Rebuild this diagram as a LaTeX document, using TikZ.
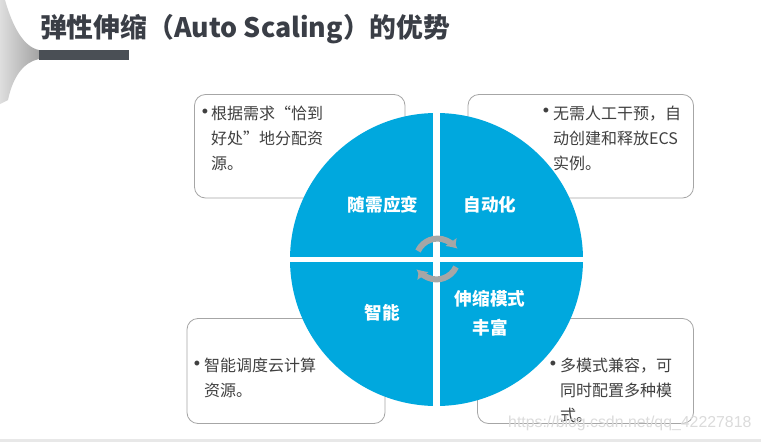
\documentclass[tikz,border=0pt]{standalone}
\usepackage{fontspec}
\setmainfont{Noto Sans CJK SC}
\newfontfamily\markfont{Liberation Sans}
\usetikzlibrary{arrows.meta}
\definecolor{wedge}{HTML}{00A8DE}
\definecolor{ink}{HTML}{404040}
\definecolor{titleink}{HTML}{3A3E46}
\definecolor{edgegray}{HTML}{A6A6A6}
\definecolor{barcol}{HTML}{4A4F55}
\tikzset{
  infobox/.style={draw=edgegray,line width=0.8pt,fill=white,rounded corners=11pt},
  bodytext/.style={anchor=west,inner sep=0pt,text=ink,font=\fontsize{16}{25}\selectfont,align=left},
  bulletmark/.style={anchor=center,inner sep=0pt,text=ink,font=\markfont\fontsize{18}{18}\selectfont},
  wedgetext/.style={anchor=center,inner sep=0pt,text=white,font=\fontsize{17.6}{20}\selectfont\bfseries},
  turnarrow/.style={draw=edgegray,line width=6pt,-{Triangle[length=7pt,width=13pt]}},
}
\begin{document}
\begin{tikzpicture}[x=1pt,y=-1pt]
\useasboundingbox (0,0) rectangle (761,442);
\fill[white] (0,0) rectangle (761,442);
\fill[black!9] (0,439) rectangle (761,442);
% fan
\shade[left color=black!13,right color=black!36]
  (0,0) -- (5,0) .. controls (13,28) and (24,47) .. (39,50) -- (39,59)
  .. controls (24,62) and (13,76) .. (8,100) -- (0,104) -- cycle;
\fill[barcol] (39,50) rectangle (129,59.5);
\node[anchor=west,inner sep=0pt,text=titleink,font=\fontsize{26.8}{30}\selectfont\bfseries] (title) at (40,29.5) {弹性伸缩（Auto Scaling）的优势};
% boxes
\draw[infobox] (194.5,94.5) rectangle (405,198);
\draw[infobox] (468,94.5) rectangle (693.5,198);
\draw[infobox] (187,318.5) rectangle (385,423.5);
\draw[infobox] (477.5,318.5) rectangle (693.5,423.5);
% disc
\fill[wedge] (436.5,259.5) circle (146.5);
\begin{scope}
\clip (436.5,259.5) circle (147.5);
\fill[white] (433,100) rectangle (440,420);
\fill[white] (280,257) rectangle (590,262);
\end{scope}
% turning arrows
\draw[turnarrow] (418,251) arc[start angle=-155,end angle=-35,radius=21.5];
\draw[turnarrow] (456,267) arc[start angle=25,end angle=145,radius=21.5];
% wedge labels
\node[wedgetext] (w1) at (383,205) {随需应变};
\node[wedgetext] (w2) at (490,205) {自动化};
\node[wedgetext] (w3) at (382,313) {智能};
\node[wedgetext] (w4) at (490,299) {伸缩模式};
\node[wedgetext] (w5) at (490,328) {丰富};
% box text
\node[bulletmark] (b1) at (205,113) {•};
\node[bodytext] (t1) at (211,138) {根据需求“恰到\\好处”地分配资\\源。};
\node[bulletmark] (b2) at (546,112) {•};
\node[bodytext] (t2) at (553,138) {无需人工干预，自\\动创建和释放ECS\\实例。};
\node[bulletmark] (b3) at (197,365) {•};
\node[bodytext] (t3) at (204,377.5) {智能调度云计算\\资源。};
\node[bulletmark] (b4) at (553,365) {•};
\node[bodytext] (t4) at (560,390) {多模式兼容，可\\同时配置多种模\\式。};
% watermark
\node[anchor=west,inner sep=0pt,text=black!14,font=\markfont\fontsize{15.85}{18}\selectfont] (mark) at (508,423) {https://blog.csdn.net/qq\_42227818};
\end{tikzpicture}
\end{document}
